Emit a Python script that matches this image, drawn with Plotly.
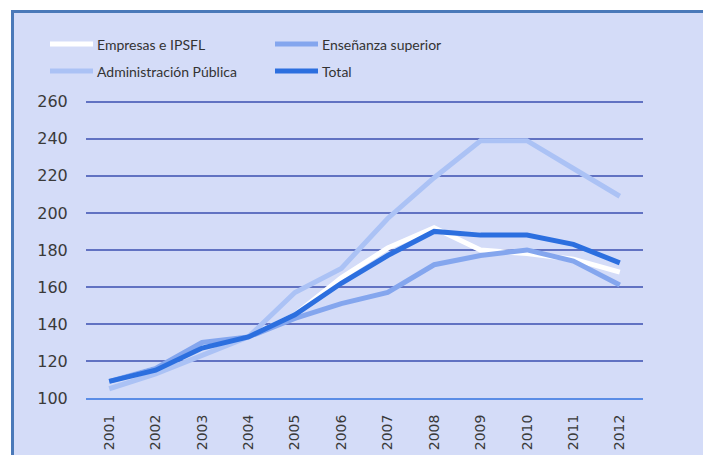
import plotly.graph_objects as go

years = ["2001", "2002", "2003", "2004", "2005", "2006", "2007", "2008", "2009", "2010", "2011", "2012"]
empresas = [109, 116, 128, 133, 145, 165, 181, 192, 180, 178, 175, 168]
ensenanza = [109, 116, 130, 133, 143, 151, 157, 172, 177, 180, 174, 161]
administracion = [105, 113, 123, 133, 157, 170, 197, 219, 239, 239, 224, 209]
total = [109, 115, 127, 133, 145, 162, 177, 190, 188, 188, 183, 173]
y_ticks = [100, 120, 140, 160, 180, 200, 220, 240, 260]

names = ["Empresas e IPSFL", "Enseñanza superior", "Administración Pública", "Total"]
series = [empresas, ensenanza, administracion, total]
colors = ["#ffffff", "#84a6ee", "#abc2f5", "#2c6fdf"]

W, H = 703, 455
L, R, T, B = 86, 60, 100, 57
pw, ph = W - L - R, H - T - B

def px_x(x):
    return (x - L) / pw

def px_y(y):
    return (H - B - y) / ph

fig = go.Figure()
for name, vals, col in zip(names, series, colors):
    fig.add_trace(go.Scatter(x=years, y=vals, mode="lines", name=name,
                             line=dict(color=col, width=5), showlegend=False))

shapes = [dict(type="rect", xref="paper", yref="paper",
               x0=px_x(12.5), x1=px_x(720), y0=px_y(11.5), y1=px_y(470),
               fillcolor="#d4dcf8", line=dict(color="#4a79b9", width=3), layer="below")]
annotations = []
leg_pos = [(50, 93, 44), (275, 318, 44), (50, 93, 71), (275, 318, 71)]
for (x0, x1, y), name, col in zip(leg_pos, names, colors):
    shapes.append(dict(type="line", xref="paper", yref="paper",
                       x0=px_x(x0), x1=px_x(x1), y0=px_y(y), y1=px_y(y),
                       line=dict(color=col, width=5)))
    annotations.append(dict(xref="paper", yref="paper", x=px_x(x1 + 2), y=px_y(y),
                            text=name, showarrow=False, xanchor="left", yanchor="middle",
                            font=dict(family="Lato", size=14, color="#333333")))

fig.update_layout(
    width=W, height=H,
    margin=dict(l=L, r=R, t=T, b=B, pad=0),
    paper_bgcolor="#ffffff",
    plot_bgcolor="rgba(0,0,0,0)",
    shapes=shapes, annotations=annotations,
    showlegend=False,
    xaxis=dict(type="category", showgrid=False, zeroline=False, automargin=False,
               showline=True, linecolor="#5b8de6", linewidth=2,
               tickangle=-90, ticks="outside", ticklen=9, tickcolor="rgba(0,0,0,0)",
               tickfont=dict(family="DejaVu Sans", size=14, color="#3a3a3a"),
               range=[-0.5, 11.5], fixedrange=True),
    yaxis=dict(range=[100, 261], tickvals=y_ticks, showgrid=True, automargin=False,
               gridcolor="#6172c2", gridwidth=2, zeroline=False, showline=False,
               ticks="outside", ticklen=14, tickcolor="rgba(0,0,0,0)",
               tickfont=dict(family="DejaVu Sans", size=16, color="#3a3a3a")),
)

fig.write_html("out.html", config={"displayModeBar": False},
               post_script="document.body.style.margin='0';document.body.style.overflow='hidden';")
